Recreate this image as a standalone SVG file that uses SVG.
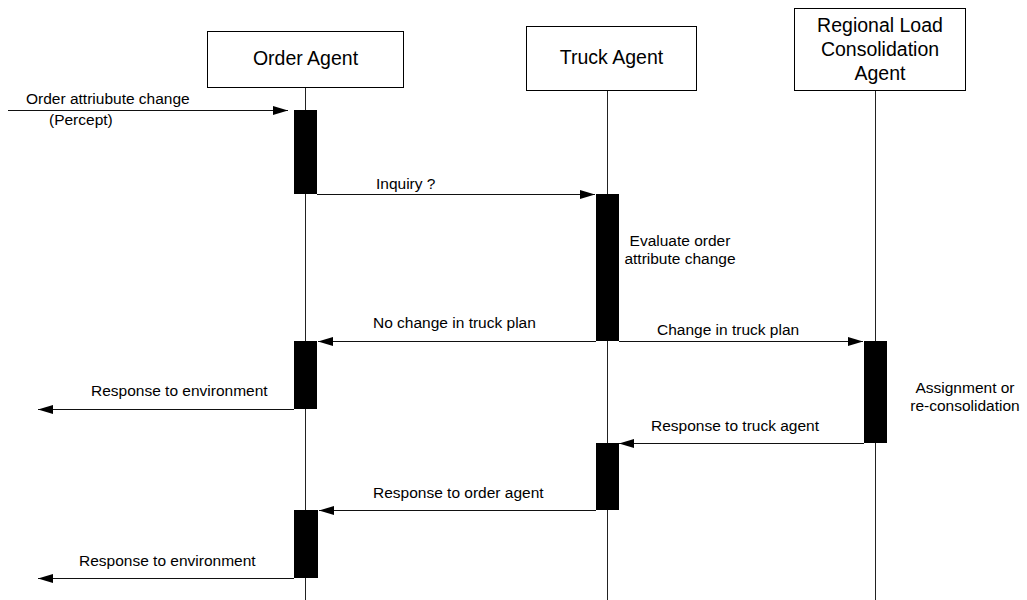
<svg xmlns="http://www.w3.org/2000/svg" width="1027" height="600" viewBox="0 0 1027 600">
  <style>
    .box { fill: #fff; stroke: #000; stroke-width: 1; }
    .life { stroke: #222; stroke-width: 1; fill: none; }
    .bar { fill: #000; }
    .msg { stroke: #111; stroke-width: 1; fill: none; marker-end: url(#head); }
    .title { font-family: "Liberation Sans", Arial, sans-serif; font-size: 19.5px; fill: #000; text-anchor: middle; }
    .lbl { font-family: "Liberation Sans", Arial, sans-serif; font-size: 15.5px; fill: #000; }
    .mid { text-anchor: middle; }
  </style>
  <defs>
    <marker id="head" markerUnits="userSpaceOnUse" markerWidth="16" markerHeight="10" refX="15" refY="4.5" orient="auto">
      <path d="M0,0 L15,4.5 L0,9 Z" fill="#000"/>
    </marker>
  </defs>

  <rect width="1027" height="600" fill="#fff"/>

  <!-- Order Agent lifeline -->
  <g id="order-agent">
    <line class="life" x1="305.5" y1="87" x2="305.5" y2="600"/>
    <rect class="box" x="207.5" y="31.5" width="196" height="56"/>
    <text class="title" x="305.5" y="65">Order Agent</text>
    <rect class="bar" x="294" y="110" width="23" height="84"/>
    <rect class="bar" x="294" y="341" width="23" height="68"/>
    <rect class="bar" x="294" y="510" width="24" height="68"/>
  </g>

  <!-- Truck Agent lifeline -->
  <g id="truck-agent">
    <line class="life" x1="607.5" y1="90" x2="607.5" y2="600"/>
    <rect class="box" x="526.5" y="26.5" width="170" height="64"/>
    <text class="title" x="611.5" y="64">Truck Agent</text>
    <rect class="bar" x="596" y="194" width="23" height="147"/>
    <rect class="bar" x="596" y="443" width="23" height="67"/>
    <text class="lbl mid" x="680" y="246">Evaluate order</text>
    <text class="lbl mid" x="680" y="264">attribute change</text>
  </g>

  <!-- Regional Load Consolidation Agent lifeline -->
  <g id="regional-agent">
    <line class="life" x1="875.5" y1="90" x2="875.5" y2="600"/>
    <rect class="box" x="794.5" y="8.5" width="171" height="82"/>
    <text class="title" x="880" y="32">Regional Load</text>
    <text class="title" x="880" y="56">Consolidation</text>
    <text class="title" x="880" y="79.5">Agent</text>
    <rect class="bar" x="864" y="341" width="23" height="102"/>
    <text class="lbl mid" x="965" y="393">Assignment or</text>
    <text class="lbl mid" x="965" y="411">re-consolidation</text>
  </g>

  <!-- Messages -->
  <g id="connectors">
    <line class="msg" x1="8" y1="110.5" x2="288" y2="110.5"/>
    <line class="msg" x1="317" y1="194.5" x2="595" y2="194.5"/>
    <line class="msg" x1="596" y1="341.5" x2="318" y2="341.5"/>
    <line class="msg" x1="619" y1="341.5" x2="863" y2="341.5"/>
    <line class="msg" x1="294" y1="409.5" x2="38" y2="409.5"/>
    <line class="msg" x1="864" y1="443.5" x2="619" y2="443.5"/>
    <line class="msg" x1="596" y1="510.5" x2="319" y2="510.5"/>
    <line class="msg" x1="294" y1="578.5" x2="38" y2="578.5"/>
  </g>

  <!-- Message labels -->
  <g id="labels">
    <text class="lbl" x="26" y="104">Order attriubute change</text>
    <text class="lbl" x="49" y="125">(Percept)</text>
    <text class="lbl" x="376" y="189">Inquiry ?</text>
    <text class="lbl" x="373" y="328">No change in truck plan</text>
    <text class="lbl" x="657" y="335">Change in truck plan</text>
    <text class="lbl" x="91" y="396">Response to environment</text>
    <text class="lbl" x="651" y="431">Response to truck agent</text>
    <text class="lbl" x="373" y="498">Response to order agent</text>
    <text class="lbl" x="79" y="566">Response to environment</text>
  </g>
</svg>
